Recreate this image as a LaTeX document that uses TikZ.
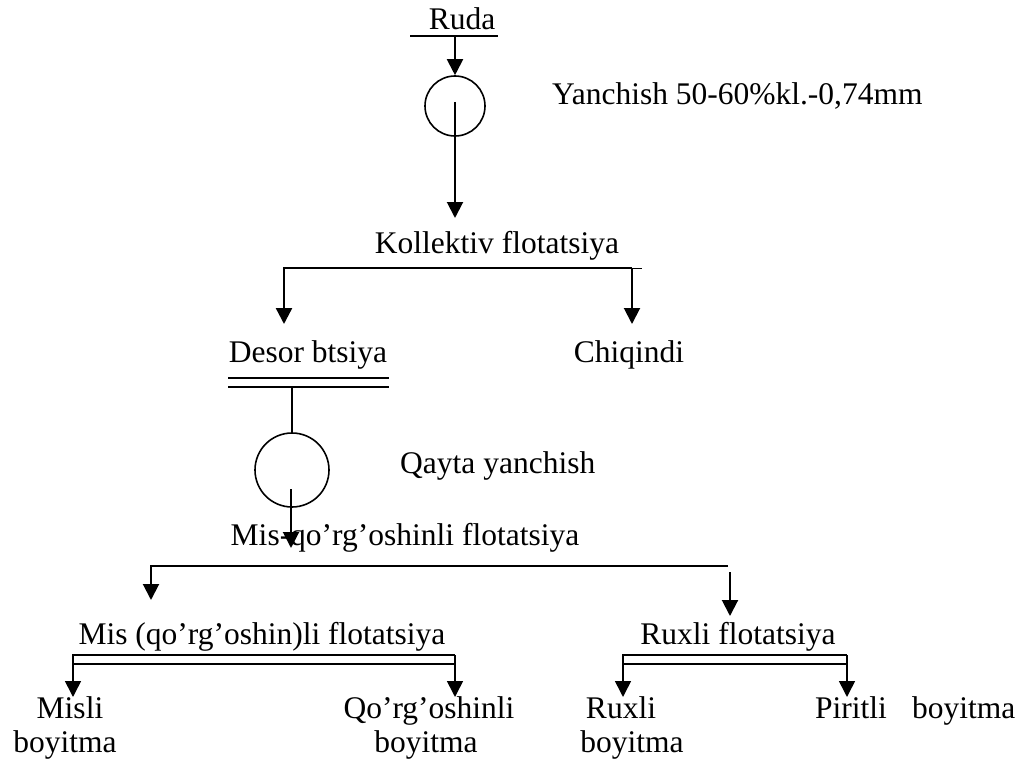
\documentclass[tikz,border=0pt]{standalone}
\usepackage{fontspec}
\setmainfont{Liberation Serif}
\usetikzlibrary{arrows.meta}

\tikzset{
  txt/.style={inner sep=0pt, anchor=base, font=\fontsize{31.5}{36}\selectfont},
  flow/.style={-{Triangle[length=16pt,width=16pt]}, line width=2pt},
  mill/.style={draw, circle, line width=1.6pt, inner sep=0pt},
  bar/.style={line width=1.6pt},
}

\begin{document}
\begin{tikzpicture}[x=1pt,y=-1pt]
    \useasboundingbox (0,0) rectangle (1018,760);

    %% Grinding and bulk flotation

    % Ore
    \node[txt] (ruda) at (462,30) {Ruda};
    \coordinate (rudaL) at (410,36);
    \coordinate (rudaR) at (498,36);
    \coordinate (rudaIn) at (455,36);
    \draw[bar] (rudaL) -- (rudaR);

    % Mill 1
    \node[mill, minimum size=60pt] (mill1) at (455,106) {};
    \node[txt, anchor=base west] (yanch) at (552,104) {Yanchish 50-60\%kl.-0,74mm};
    \coordinate (mill1Out) at (455,102);
    \coordinate (kolTip) at (455,218);
    \draw[flow] (rudaIn) -- (mill1.north);
    \draw[flow] (mill1Out) -- (kolTip);

    % Bulk flotation
    \node[txt] (kol) at (497,253) {Kollektiv flotatsiya};
    \coordinate (kolL) at (284,268);
    \coordinate (kolR) at (632,268);
    \coordinate (desTip) at (284,324);
    \coordinate (chiqTip) at (632,324);
    \draw[flow, line width=2.4pt] (kolR) -- (kolL) -- (desTip);
    \draw[flow] (kolR) -- (chiqTip);
    \draw[line width=0.8pt] (kolR) -- ++(10,0);

    \node[txt] (desor) at (308,362) {Desor btsiya};
    \node[txt] (chiq) at (629,362) {Chiqindi};

    %% Regrinding and selective flotation

    % Double bar
    \coordinate (desA) at (228,378);
    \coordinate (desB) at (389,378);
    \coordinate (desC) at (228,387);
    \coordinate (desD) at (389,387);
    \coordinate (desOut) at (292,387);
    \draw[bar] (desA) -- (desB);
    \draw[bar] (desC) -- (desD);

    % Mill 2
    \node[mill, minimum size=74pt] (mill2) at (292,470) {};
    \node[txt, anchor=base west] (qayta) at (400,473) {Qayta yanchish};
    \coordinate (mill2Out) at (291,489);
    \coordinate (mqTip) at (291,548);
    \draw[line width=2pt] (desOut) -- (mill2.north);
    \draw[flow] (mill2Out) -- (mqTip);

    % Cu-Pb flotation
    \node[txt] (misqo) at (405,545) {Mis-qo’rg’oshinli flotatsiya};
    \coordinate (mqL) at (151,566);
    \coordinate (mqR) at (728,566);
    \coordinate (misTip) at (151,600);
    \coordinate (ruxIn) at (730,572);
    \coordinate (ruxTip) at (730,616);
    \draw[flow] (mqR) -- (mqL) -- (misTip);
    \draw[flow] (ruxIn) -- (ruxTip);

    \node[txt] (misfl) at (262,644) {Mis (qo’rg’oshin)li flotatsiya};
    \node[txt] (ruxfl) at (738,644) {Ruxli flotatsiya};

    % Cu / Pb split
    \coordinate (misL) at (73,655);
    \coordinate (misR) at (455,655);
    \coordinate (misL2) at (73,664);
    \coordinate (misR2) at (455,664);
    \coordinate (misliTip) at (73,697);
    \coordinate (qorgTip) at (455,697);
    \draw[flow, line width=1.6pt] (misR) -- (misL) -- (misliTip);
    \draw[flow, line width=1.6pt] (misR) -- (qorgTip);
    \draw[bar] (misL2) -- (misR2);

    % Zn / pyrite split
    \coordinate (ruxL) at (623,655);
    \coordinate (ruxR) at (847,655);
    \coordinate (ruxL2) at (623,664);
    \coordinate (ruxR2) at (847,664);
    \coordinate (ruxliTip) at (623,697);
    \coordinate (piritTip) at (847,697);
    \draw[flow, line width=1.6pt] (ruxR) -- (ruxL) -- (ruxliTip);
    \draw[flow, line width=1.6pt] (ruxR) -- (piritTip);
    \draw[bar] (ruxL2) -- (ruxR2);

    % Products
    \node[txt] (misli) at (70,718) {Misli};
    \node[txt] (boy1) at (65,752) {boyitma};
    \node[txt] (qorg) at (429,718) {Qo’rg’oshinli};
    \node[txt] (boy2) at (426,752) {boyitma};
    \node[txt] (ruxli) at (621,718) {Ruxli};
    \node[txt] (boy3) at (632,752) {boyitma};
    \node[txt, anchor=base west] (pirit) at (815,718) {Piritli\hspace{0.8em}boyitma};

\end{tikzpicture}
\end{document}
